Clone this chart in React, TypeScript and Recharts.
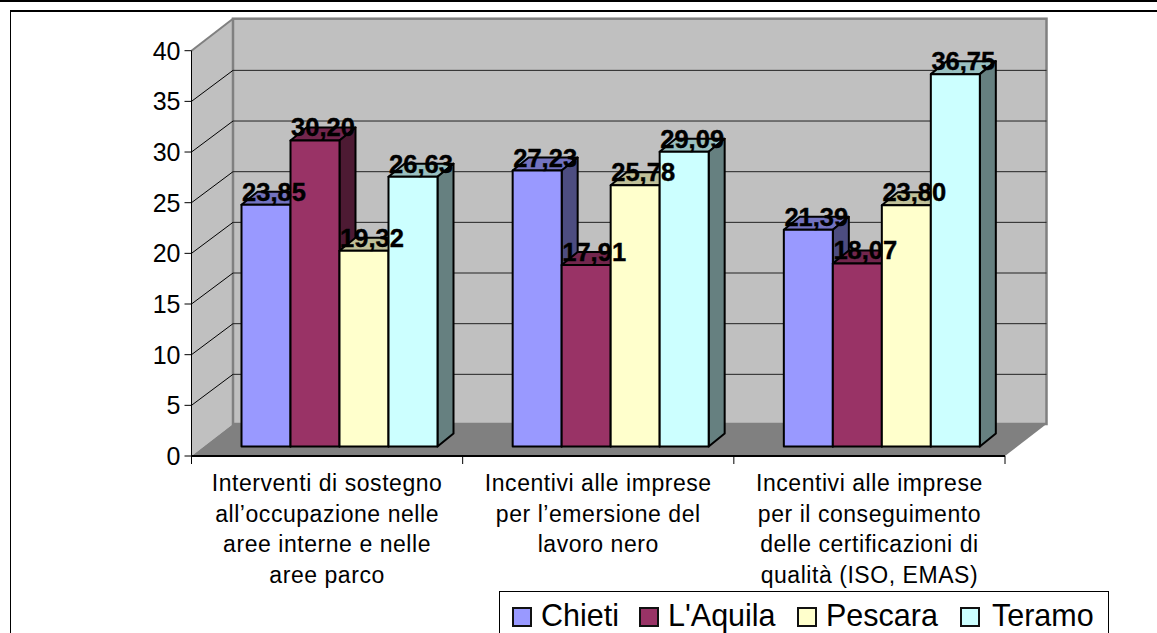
import React from 'react';
import { BarChart, Bar, XAxis, YAxis, CartesianGrid, Legend, LabelList, usePlotArea } from 'recharts';

const CATEGORIES = [
  'Interventi di sostegno\nall’occupazione nelle\naree interne e nelle\naree parco',
  'Incentivi alle imprese\nper l’emersione del\nlavoro nero',
  'Incentivi alle imprese\nper il conseguimento\ndelle certificazioni di\nqualità (ISO, EMAS)',
];
const CHIETI = [23.85, 27.23, 21.39];
const AQUILA = [30.2, 17.91, 18.07];
const PESCARA = [19.32, 25.78, 23.8];
const TERAMO = [26.63, 29.09, 36.75];
const Y_TICKS = [0, 5, 10, 15, 20, 25, 30, 35, 40];

const chartData = CATEGORIES.map((name, i) => ({
  name,
  Chieti: CHIETI[i],
  "L'Aquila": AQUILA[i],
  Pescara: PESCARA[i],
  Teramo: TERAMO[i],
}));

const FONT = '"Liberation Sans", Arial, sans-serif';
// depth of the room and of the bars
const WALL_DX = 41.5;
const WALL_DY = -32;
const GRID_DY = -31;
const BAR_DX = 16;
const BAR_DY = -13;
const SHIFT_X = 13;
const SHIFT_Y = -9.5;

const SERIES = [
  { key: 'Chieti', front: '#9999FF', top: '#7373C0', side: '#4D4D80' },
  { key: "L'Aquila", front: '#993366', top: '#73264D', side: '#4D1A33' },
  { key: 'Pescara', front: '#FFFFCC', top: '#C0C099', side: '#808066' },
  { key: 'Teramo', front: '#CCFFFF', top: '#99C0C0', side: '#668080' },
];

// legend slots, relative to the box
const SWATCH_LEFT = [12, 139, 297, 460];
const TEXT_LEFT = [41, 168, 326, 492];

function Walls() {
  const plot = usePlotArea();
  if (!plot) return null;
  const { x, y, width, height } = plot;
  const right = x + width;
  const bottom = y + height;
  const bx = x + WALL_DX;
  const br = right + WALL_DX;
  const by = y + WALL_DY;
  const bb = bottom + WALL_DY;
  const stops = CATEGORIES.map((_, i) => x + (width * i) / CATEGORIES.length).concat(right);
  return (
    <g>
      <polygon points={`${x},${bottom} ${x},${y} ${bx},${by} ${bx},${bb}`} fill="#C0C0C0" />
      <rect x={bx} y={by} width={width} height={height} fill="#C0C0C0" stroke="#808080" strokeWidth={2.5} />
      <polygon points={`${x},${bottom} ${right},${bottom} ${br},${bb} ${bx},${bb}`} fill="#808080" />
      <line x1={x} y1={y} x2={bx} y2={by} stroke="#808080" strokeWidth={2} />
      {stops.map((sx) => (
        <line key={sx} x1={sx} y1={bottom} x2={sx} y2={bottom + 8} stroke="#000" strokeWidth={1} />
      ))}
    </g>
  );
}

function gridLine(props: any) {
  const { x1, x2, y1, key, index } = props;
  // no line on the floor or along the top edge
  if (index === 0 || index === Y_TICKS.length - 1) return <g key={key} />;
  return (
    <g key={key}>
      <line x1={x1 + WALL_DX} y1={y1 + GRID_DY} x2={x2 + WALL_DX} y2={y1 + GRID_DY} stroke="#222" strokeWidth={1} />
      <line x1={x1} y1={y1} x2={x1 + WALL_DX} y2={y1 + GRID_DY} stroke="#000" strokeWidth={1} />
    </g>
  );
}

function Bar3D(props: any) {
  const { x, y, width, height, front, top, side } = props;
  const l = x + SHIFT_X;
  const r = l + width;
  const t = y + SHIFT_Y;
  const b = t + height;
  const line = { stroke: '#000', strokeWidth: 2, strokeLinejoin: 'round' as const };
  return (
    <g>
      <polygon points={`${l},${t} ${r},${t} ${r + BAR_DX},${t + BAR_DY} ${l + BAR_DX},${t + BAR_DY}`} fill={top} {...line} />
      <polygon points={`${r},${t} ${r + BAR_DX},${t + BAR_DY} ${r + BAR_DX},${b + BAR_DY} ${r},${b}`} fill={side} {...line} />
      <rect x={l} y={t} width={width} height={height} fill={front} {...line} />
    </g>
  );
}

function ValueLabel(props: any) {
  const { x, y, width, value } = props;
  return (
    <text
      x={x + SHIFT_X + width / 2 + BAR_DX / 2}
      y={y + SHIFT_Y - 4}
      textAnchor="middle"
      fontFamily={FONT}
      fontWeight="bold"
      fontSize={25.5}
      fill="#000"
      stroke="#000"
      strokeWidth={0.4}
    >
      {Number(value).toFixed(2).replace('.', ',')}
    </text>
  );
}

function CategoryTick(props: any) {
  const { x, y, payload } = props;
  return (
    <g>
      {String(payload.value).split('\n').map((row, i) => (
        <text
          key={i}
          x={x}
          y={y + 27 + i * 30.5}
          textAnchor="middle"
          fontFamily={FONT}
          fontSize={23}
          letterSpacing={0.55}
          fill="#000"
        >
          {row}
        </text>
      ))}
    </g>
  );
}

function LegendBox({ payload }: any) {
  return (
    <div style={{ position: 'relative', width: 610, height: 42, border: '1px solid #000', borderBottom: 'none', boxSizing: 'border-box', background: '#fff', fontFamily: FONT, fontSize: 30.5, color: '#000' }}>
      {(payload || []).map((item: any, i: number) => (
        <React.Fragment key={item.value}>
          <span style={{ position: 'absolute', left: SWATCH_LEFT[i], top: 15, width: 20, height: 20, boxSizing: 'border-box', border: '2px solid #111', background: item.color }} />
          <span style={{ position: 'absolute', left: TEXT_LEFT[i], top: 6, whiteSpace: 'nowrap', lineHeight: '34px' }}>{item.value}</span>
        </React.Fragment>
      ))}
    </div>
  );
}

export default function App() {
  return (
    <div style={{ position: 'absolute', left: 0, top: 0, width: 1157, height: 633, overflow: 'hidden', background: '#fff' }}>
      <div style={{ position: 'absolute', left: 0, top: 0, width: 1157, height: 2, background: '#000' }} />
      <div style={{ position: 'absolute', left: 10, top: 10, width: 1147, height: 623, borderLeft: '1px solid #000', borderTop: '2px solid #000', boxSizing: 'border-box' }} />
      <BarChart
        width={1157}
        height={633}
        data={chartData}
        margin={{ top: 50.7, right: 152, bottom: 0, left: 0 }}
        barCategoryGap={37}
        barGap={0}
        style={{ position: 'absolute', left: 0, top: 0 }}
      >
        <Walls />
        <CartesianGrid horizontal={gridLine} vertical={false} zIndex={1} />
        <XAxis dataKey="name" height={177} interval={0} tickLine={false} axisLine={{ stroke: '#000', strokeWidth: 2 }} tick={<CategoryTick />} />
        <YAxis
          width={191.5}
          domain={[0, 40]}
          ticks={Y_TICKS}
          interval={0}
          tickSize={7}
          tickMargin={4}
          axisLine={{ stroke: '#000', strokeWidth: 1 }}
          tickLine={{ stroke: '#000', strokeWidth: 1 }}
          tick={{ fontFamily: FONT, fontSize: 25, fill: '#000' }}
        />
        <Legend
          layout="horizontal"
          verticalAlign="middle"
          content={<LegendBox />}
          wrapperStyle={{ left: 499, top: 591, width: 610, height: 42, margin: 0 }}
        />
        {SERIES.map((s) => (
          <Bar
            key={s.key}
            dataKey={s.key}
            fill={s.front}
            isAnimationActive={false}
            shape={(p: any) => <Bar3D {...p} front={s.front} top={s.top} side={s.side} />}
          >
            <LabelList dataKey={s.key} content={<ValueLabel />} />
          </Bar>
        ))}
      </BarChart>
    </div>
  );
}
